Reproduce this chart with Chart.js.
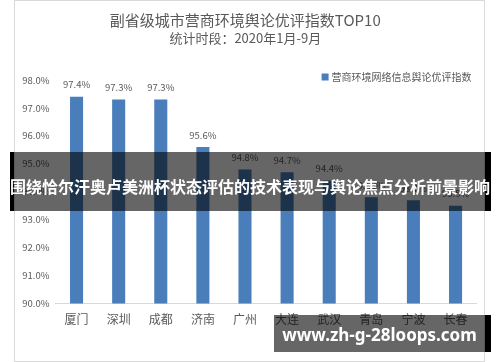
<!DOCTYPE html>
<html>
<head>
<meta charset="utf-8">
<script src="https://cdn.jsdelivr.net/npm/chart.js@4/dist/chart.umd.min.js"></script>
<style>
  html, body { margin: 0; padding: 0; background: #fff; }
  #wrap { position: relative; width: 500px; height: 362px; overflow: hidden; }
  #frame { position: absolute; left: 14px; top: 0; width: 471px; height: 362px; box-sizing: border-box; border: 1px solid #d9d9d9; }
  canvas { position: absolute; left: 0; top: 0; }
  .blk { position: absolute; background: #000; }
  .shade { position: absolute; background: rgba(0,0,0,0.6); }
  #bannerText { position: absolute; left: 0; width: 500px; top: 174px; height: 24px; line-height: 24px; text-align: center;
    color: #fff; font: bold 16px "Noto Sans CJK SC", sans-serif; white-space: nowrap; letter-spacing: 0px; }
  #wmText { position: absolute; left: 274px; width: 211px; top: 323px; height: 24px; line-height: 24px; text-align: center;
    color: #fff; font: bold 17px "Noto Sans", sans-serif; white-space: nowrap; }
</style>
</head>
<body>
<div id="wrap">
  <div id="frame"></div>
  <canvas id="c" width="500" height="362"></canvas>
  <!-- banner overlay -->
  <div class="blk" style="left:10px;top:152px;width:4px;height:59px;"></div>
  <div class="shade" style="left:14px;top:152px;width:471px;height:59px;"></div>
  <div class="blk" style="left:485px;top:152px;width:6px;height:59px;"></div>
  <div id="bannerText">围绕恰尔汗奥卢美洲杯状态评估的技术表现与舆论焦点分析前景影响</div>
  <!-- watermark -->
  <div class="shade" style="left:274px;top:315px;width:211px;height:37px;"></div>
  <div class="blk" style="left:485px;top:315px;width:6px;height:37px;"></div>
  <div id="wmText">www.zh-g-28loops.com</div>
</div>
<script>
const categories = ['厦门', '深圳', '成都', '济南', '广州', '大连', '武汉', '青岛', '宁波', '长春'];
const indexValues = [97.4, 97.3, 97.3, 95.6, 94.8, 94.7, 94.4, 93.8, 93.7, 93.5];
const seriesName = '营商环境网络信息舆论优评指数';
const titleText = '副省级城市营商环境舆论优评指数TOP10';
const subtitleText = '统计时段：2020年1月-9月';
const yMin = 90, yMax = 98, yStep = 1;

const FONT = '"Noto Sans CJK SC", "Noto Sans", sans-serif';
const TXT = '#595959';
const BAR = '#4a7ebb';

const valueLabels = {
  id: 'valueLabels',
  afterDatasetsDraw(chart) {
    const ctx = chart.ctx;
    const meta = chart.getDatasetMeta(0);
    ctx.save();
    ctx.font = '9.5px ' + FONT;
    ctx.fillStyle = TXT;
    ctx.textAlign = 'center';
    ctx.textBaseline = 'middle';
    meta.data.forEach((bar, i) => {
      ctx.fillText(chart.data.datasets[0].data[i].toFixed(1) + '%', bar.x, bar.y - 12);
    });
    ctx.restore();
  }
};

const customLegend = {
  id: 'customLegend',
  afterDraw(chart) {
    const ctx = chart.ctx;
    const ds = chart.data.datasets[0];
    ctx.save();
    ctx.font = '10px ' + FONT;
    const w = ctx.measureText(ds.label).width;
    const right = chart.chartArea.right - 5;
    const cy = chart.chartArea.top - 3;
    const tx = right - w;
    ctx.fillStyle = ds.backgroundColor;
    ctx.fillRect(tx - 10, cy - 3.5, 7, 7);
    ctx.fillStyle = TXT;
    ctx.textAlign = 'left';
    ctx.textBaseline = 'middle';
    ctx.fillText(ds.label, tx, cy);
    ctx.restore();
  }
};

new Chart(document.getElementById('c'), {
  type: 'bar',
  data: {
    labels: categories,
    datasets: [{
      label: seriesName,
      data: indexValues,
      backgroundColor: BAR,
      borderWidth: 0,
      barPercentage: 0.31,
      categoryPercentage: 1
    }]
  },
  options: {
    responsive: false,
    animation: false,
    devicePixelRatio: 1,
    layout: { padding: { left: 14, right: 23.4, top: 0, bottom: 0 } },
    plugins: {
      legend: { display: false },
      tooltip: { enabled: false },
      title: {
        display: true, text: titleText, color: TXT,
        font: { family: FONT, size: 15, weight: 'normal' },
        padding: { top: 11, bottom: 0 }
      },
      subtitle: {
        display: true, text: subtitleText, color: TXT,
        font: { family: FONT, size: 13, weight: 'normal' },
        padding: { top: 1, bottom: 34.4 }
      }
    },
    scales: {
      x: {
        grid: { display: false, drawTicks: false },
        border: { display: true, color: '#d9d9d9', width: 1 },
        ticks: { color: TXT, font: { family: FONT, size: 12 }, padding: 9 },
        afterFit(scale) { scale.height = 58.5; }
      },
      y: {
        min: yMin, max: yMax,
        grid: { display: false, drawTicks: false },
        border: { display: false },
        ticks: {
          stepSize: yStep, color: TXT, padding: 6,
          font: { family: FONT, size: 9.5 },
          callback: v => v.toFixed(1) + '%'
        },
        afterFit(scale) { scale.width = 41.5; }
      }
    }
  },
  plugins: [valueLabels, customLegend]
});
</script>
</body>
</html>
